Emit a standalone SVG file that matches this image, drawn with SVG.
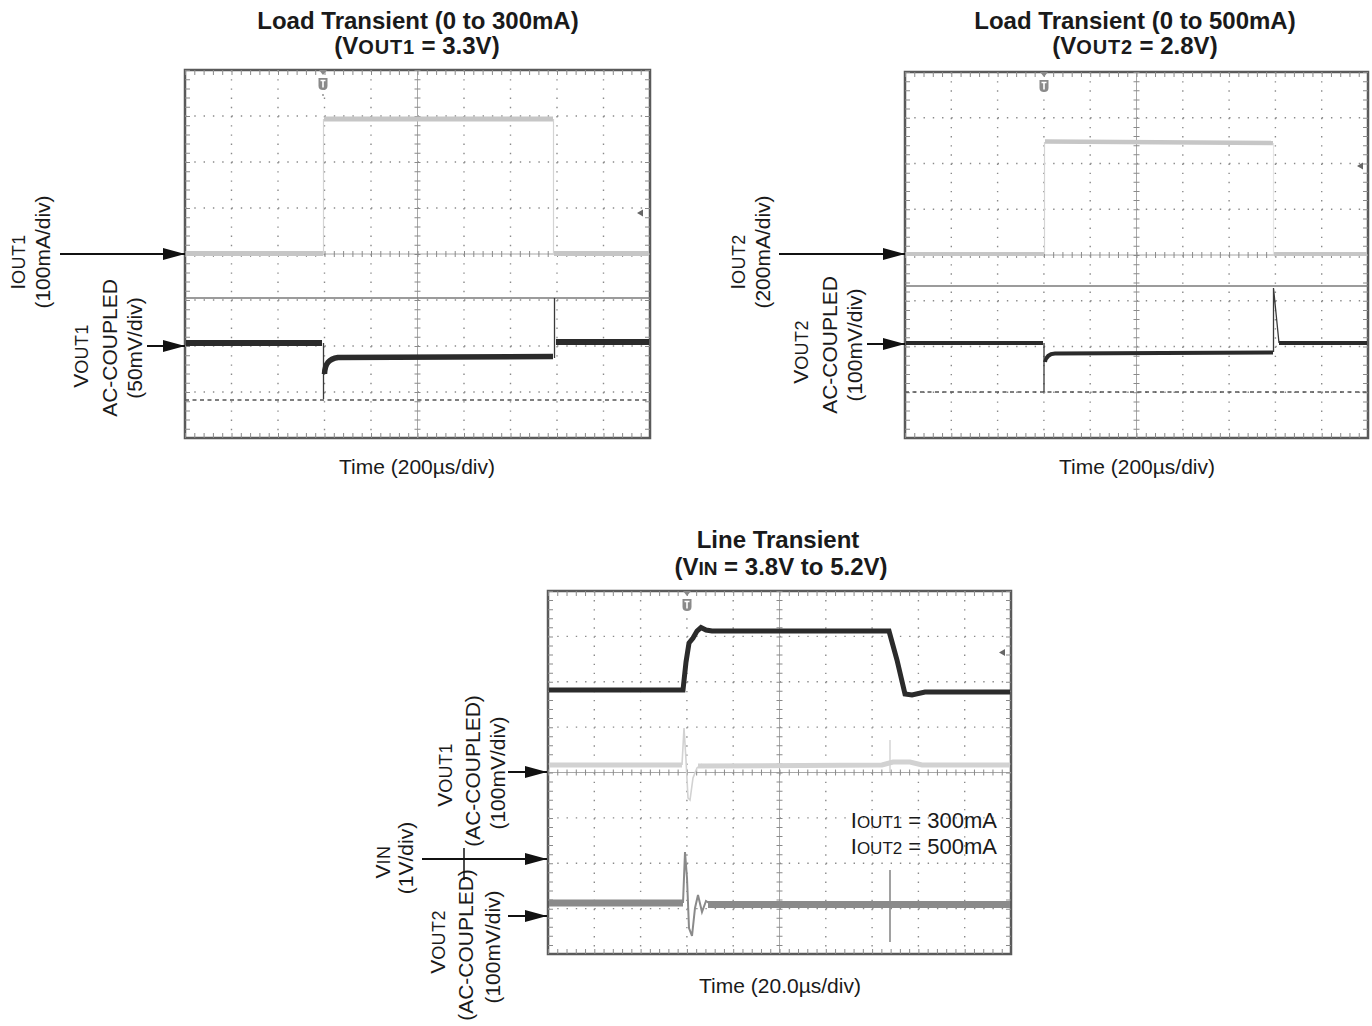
<svg xmlns="http://www.w3.org/2000/svg" width="1372" height="1026" viewBox="0 0 1372 1026">
<style>
text{font-family:"Liberation Sans",Arial,sans-serif;fill:#1a1a1a}
.title{font-size:24px;font-weight:bold;text-anchor:middle}
.tsub{font-size:20px;letter-spacing:0.8px}
.lab{font-size:21px;text-anchor:middle}
.sub{font-size:18px;letter-spacing:0.4px}
.frame{fill:#fff;stroke:#5a5a5a;stroke-width:2.5}
.grid{stroke:#8a8a8a;stroke-width:1.4;fill:none}
.axis{stroke:#a8a8a8;stroke-width:1;fill:none}
.tick{stroke:#8a8a8a;stroke-width:6;fill:none}
.btick{stroke:#8a8a8a;stroke-width:5;fill:none}
.ref{stroke:#7a7a7a;stroke-width:1.5;fill:none}
.dash{stroke:#555;stroke-width:1.3;stroke-dasharray:4 3.5;fill:none}
.dk{stroke:#2b2b2b;stroke-width:6;fill:none}
.dkt{stroke:#3a3a3a;stroke-width:1.3;fill:none}
.lt{stroke:#c6c6c6;stroke-width:5;fill:none}
.ltt{stroke:#d4d4d4;stroke-width:1.2;fill:none}
.md{stroke:#8a8a8a;stroke-width:7;fill:none}
.mdt{stroke:#8a8a8a;stroke-width:2;fill:none}
.arr{stroke:#111;stroke-width:2.2;fill:none;marker-end:url(#ah)}
.mk{fill:#666}
.trig{fill:#8a8a8a}
</style>
<defs>
<marker id="ah" viewBox="0 0 22 12" refX="22" refY="6" markerWidth="22" markerHeight="12" markerUnits="userSpaceOnUse" orient="auto">
<path d="M0,0 L22,6 L0,12 z" fill="#111"/>
</marker>
</defs>
<rect width="1372" height="1026" fill="#fff"/>

<!-- ================= Panel 1 ================= -->
<g id="panel-load1">
<text class="title" x="418" y="29">Load Transient (0 to 300mA)</text>
<text class="title" x="417" y="54">(V<tspan class="tsub">OUT1</tspan> = 3.3V)</text>
<rect class="frame" x="185" y="70" width="465" height="368"/>
<g class="grid" style="stroke-dasharray:1.4 7.8">
<path d="M231.5,70V438M278,70V438M324.5,70V438M371,70V438M464,70V438M510.5,70V438M557,70V438M603.5,70V438"/>
</g>
<g class="grid" style="stroke-dasharray:1.4 7.9">
<path d="M185,116H650M185,162H650M185,208H650M185,300H650M185,346H650M185,392H650"/>
</g>
<path class="axis" d="M417.5,70V438M185,254H650"/>
<path class="tick" style="stroke-dasharray:1 8.2" d="M417.5,70V438"/>
<path class="tick" style="stroke-dasharray:1 8.3" d="M185,254H650"/>
<path class="btick" style="stroke-dasharray:1 8.3" d="M185,72.5H650M185,435.5H650"/>
<path class="btick" style="stroke-dasharray:1 8.2" d="M187.5,70V438M647.5,70V438"/>
<path class="ref" d="M185,298H650"/>
<path class="dash" d="M185,400H650"/>
<!-- trigger marker -->
<path class="trig" d="M319,70 L327,70 L323,75 z"/>
<path class="trig" d="M318.5,78 h9 v8 q0,4 -4.5,4 q-4.5,0 -4.5,-4 z"/>
<path d="M320.5,80.5h5M323,80.5v7" stroke="#fff" stroke-width="1.6"/>
<circle cx="323" cy="95" r="0.9" fill="#888"/>
<path class="mk" d="M637,213 L643,209.5 L643,216.5 z"/>
<!-- IOUT1 trace -->
<path class="lt" d="M186,253.5H323"/>
<path class="ltt" d="M323.5,253V119"/>
<path class="lt" d="M324,119H553"/>
<path class="ltt" d="M553.5,119V253"/>
<path class="lt" d="M554,253.5H649"/>
<!-- VOUT1 trace -->
<path class="dk" d="M186,343H322"/>
<path class="dkt" d="M323.5,343V399"/>
<path class="dk" style="stroke-width:5.5" d="M324.5,374 C325,363 329,359 338,357.5 L553,356.5"/>
<path class="dkt" d="M554.5,358V298"/>
<path class="dk" d="M556,342H649"/>
<text class="lab" x="417" y="474">Time (200µs/div)</text>
<text class="lab" transform="translate(25,262) rotate(-90)">I<tspan class="sub">OUT1</tspan></text>
<text class="lab" transform="translate(50,252) rotate(-90)">(100mA/div)</text>
<text class="lab" transform="translate(88,356) rotate(-90)">V<tspan class="sub">OUT1</tspan></text>
<text class="lab" transform="translate(117,348) rotate(-90)">AC-COUPLED</text>
<text class="lab" transform="translate(142,348) rotate(-90)">(50mV/div)</text>
</g>

<!-- ================= Panel 2 ================= -->
<g id="panel-load2">
<text class="title" x="1135" y="29">Load Transient (0 to 500mA)</text>
<text class="title" x="1135" y="54">(V<tspan class="tsub">OUT2</tspan> = 2.8V)</text>
<rect class="frame" x="905" y="72" width="463" height="366"/>
<g class="grid" style="stroke-dasharray:1.4 7.75">
<path d="M951.3,72V438M997.6,72V438M1043.9,72V438M1090.2,72V438M1182.8,72V438M1229.1,72V438M1275.4,72V438M1321.7,72V438"/>
</g>
<g class="grid" style="stroke-dasharray:1.4 7.86">
<path d="M905,117.75H1368M905,163.5H1368M905,209.25H1368M905,300.75H1368M905,346.5H1368M905,392.25H1368"/>
</g>
<path class="axis" d="M1136.5,72V438M905,255H1368"/>
<path class="tick" style="stroke-dasharray:1 8.15" d="M1136.5,72V438"/>
<path class="tick" style="stroke-dasharray:1 8.26" d="M905,255H1368"/>
<path class="btick" style="stroke-dasharray:1 8.26" d="M905,74.5H1368M905,435.5H1368"/>
<path class="btick" style="stroke-dasharray:1 8.15" d="M907.5,72V438M1365.5,72V438"/>
<path class="ref" d="M905,286H1368"/>
<path class="dash" d="M905,392H1368"/>
<path class="trig" d="M1040,72 L1048,72 L1044,77 z"/>
<path class="trig" d="M1039.5,80 h9 v8 q0,4 -4.5,4 q-4.5,0 -4.5,-4 z"/>
<path d="M1041.5,82.5h5M1044,82.5v7" stroke="#fff" stroke-width="1.6"/>
<path class="mk" d="M1357,166 L1363,162.5 L1363,169.5 z"/>
<!-- IOUT2 trace -->
<path class="lt" style="stroke-width:4" d="M906,254H1044"/>
<path class="ltt" d="M1044.5,254V142"/>
<path class="lt" style="stroke-width:4.5" d="M1045,141.5L1273,143"/>
<path class="ltt" style="stroke:#e6e6e6" d="M1273.5,143V254"/>
<path class="lt" style="stroke-width:4" d="M1274,254H1367"/>
<!-- VOUT2 trace -->
<path class="dk" style="stroke-width:4" d="M906,343H1043"/>
<path class="dkt" d="M1044,343V392"/>
<path class="dk" style="stroke-width:4" d="M1045,362 Q1046.5,354 1055,353.5 L1273,352.5"/>
<path class="dkt" d="M1273.5,352V288L1279,343"/>
<path class="dk" style="stroke-width:4" d="M1279,343H1367"/>
<text class="lab" x="1137" y="474">Time (200µs/div)</text>
<text class="lab" transform="translate(745,262) rotate(-90)">I<tspan class="sub">OUT2</tspan></text>
<text class="lab" transform="translate(770,252) rotate(-90)">(200mA/div)</text>
<text class="lab" transform="translate(808,352) rotate(-90)">V<tspan class="sub">OUT2</tspan></text>
<text class="lab" transform="translate(837,345) rotate(-90)">AC-COUPLED</text>
<text class="lab" transform="translate(862,345) rotate(-90)">(100mV/div)</text>
</g>

<!-- ================= Panel 3 ================= -->
<g id="panel-line">
<text class="title" x="778" y="548">Line Transient</text>
<text class="title" x="781" y="575">(V<tspan style="font-size:19px">IN</tspan> = 3.8V to 5.2V)</text>
<rect class="frame" x="548" y="591" width="463" height="363"/>
<g class="grid" style="stroke-dasharray:1.4 7.68">
<path d="M594.3,591V954M640.6,591V954M686.9,591V954M733.2,591V954M825.8,591V954M872.1,591V954M918.4,591V954M964.7,591V954"/>
</g>
<g class="grid" style="stroke-dasharray:1.4 7.86">
<path d="M548,636.4H1011M548,681.75H1011M548,727.1H1011M548,817.9H1011M548,863.25H1011M548,908.6H1011"/>
</g>
<path class="axis" d="M779.5,591V954M548,772.5H1011"/>
<path class="tick" style="stroke-dasharray:1 8.075" d="M779.5,591V954"/>
<path class="tick" style="stroke-dasharray:1 8.26" d="M548,772.5H1011"/>
<path class="btick" style="stroke-dasharray:1 8.26" d="M548,593.5H1011M548,951.5H1011"/>
<path class="btick" style="stroke-dasharray:1 8.075" d="M550.5,591V954M1008.5,591V954"/>
<path class="trig" d="M683,591 L691,591 L687,596 z"/>
<path class="trig" d="M682.5,599 h9 v8 q0,4 -4.5,4 q-4.5,0 -4.5,-4 z"/>
<path d="M684.5,601.5h5M687,601.5v7" stroke="#fff" stroke-width="1.6"/>
<path class="mk" d="M999,652.5 L1005,649 L1005,656 z"/>
<!-- VIN trace -->
<path class="dk" style="stroke-width:5" d="M549,690H683 L686,662 L689,643 L693,638 L697,631 L701,627.5 L706,630 L712,631 L889,631 L897,660 L905,694 L912,695 L925,692 H1010"/>
<!-- VOUT1 trace -->
<path class="lt" style="stroke:#d2d2d2" d="M549,765H682"/>
<path class="ltt" style="stroke:#d2d2d2;stroke-width:1.6" d="M682,765 L684,728 L686,760 L688,798 L690,800 L693,778 L697,768 L702,764"/>
<path class="lt" style="stroke:#d2d2d2" d="M698,766 L882,765 L893,762 L910,762 L922,765 H1010"/>
<path class="ltt" style="stroke:#d2d2d2;stroke-width:1.4" d="M890,740V772"/>
<!-- VOUT2 trace -->
<path class="md" d="M549,903H683"/>
<path class="mdt" d="M683,903 L685,852 L687,878 L689,928 L692,936 L695,908 L698,895 L702,912 L706,901 L712,905"/>
<path class="md" d="M708,904.5H1010"/>
<path class="mdt" style="stroke-width:1.6" d="M890,870V942"/>
<text style="font-size:22px;text-anchor:end" x="997" y="828">I<tspan style="font-size:17px">OUT1</tspan> = 300mA</text>
<text style="font-size:22px;text-anchor:end" x="997" y="854">I<tspan style="font-size:17px">OUT2</tspan> = 500mA</text>
<text class="lab" x="780" y="993">Time (20.0µs/div)</text>
<text class="lab" transform="translate(390,862) rotate(-90)">V<tspan class="sub">IN</tspan></text>
<text class="lab" transform="translate(413,858) rotate(-90)">(1V/div)</text>
<text class="lab" transform="translate(452,775) rotate(-90)">V<tspan class="sub">OUT1</tspan></text>
<text class="lab" transform="translate(480,771) rotate(-90)">(AC-COUPLED)</text>
<text class="lab" transform="translate(505,773) rotate(-90)">(100mV/div)</text>
<text class="lab" transform="translate(445,942) rotate(-90)">V<tspan class="sub">OUT2</tspan></text>
<text class="lab" transform="translate(473,945) rotate(-90)">(AC-COUPLED)</text>
<text class="lab" transform="translate(500,947) rotate(-90)">(100mV/div)</text>
<path d="M464,848V880" stroke="#111" stroke-width="1.5"/>
</g>

<!-- ================= Connectors ================= -->
<g id="connectors">
<path class="arr" d="M60,254H185"/>
<path class="arr" d="M147,346H185"/>
<path class="arr" d="M779,254H905"/>
<path class="arr" d="M867,344H905"/>
<path class="arr" d="M508,772H547"/>
<path class="arr" d="M422,859H547"/>
<path class="arr" d="M508,916H547"/>
</g>
</svg>
